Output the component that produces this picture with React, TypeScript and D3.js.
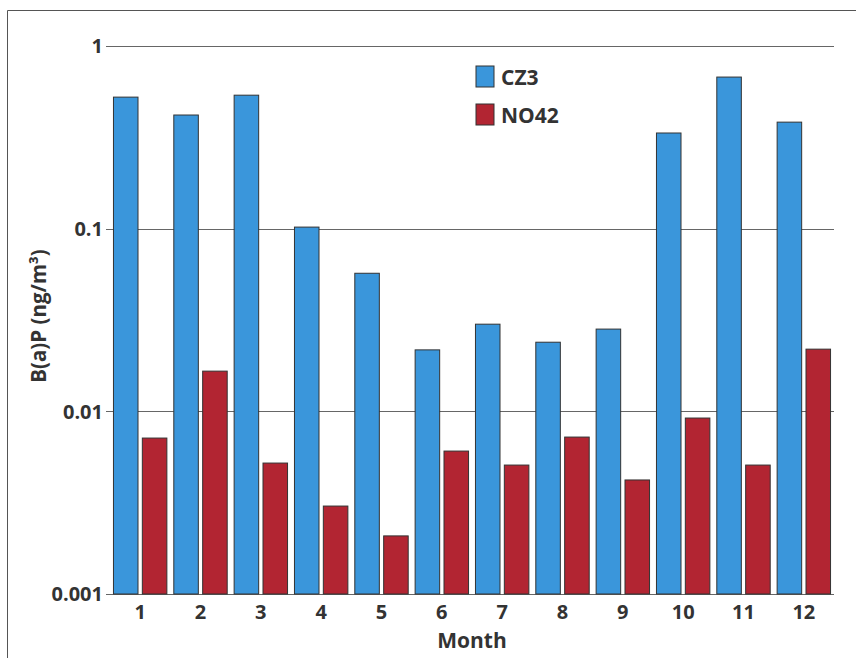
import * as d3 from 'd3';
import React from 'react';

const months = ['1', '2', '3', '4', '5', '6', '7', '8', '9', '10', '11', '12'];
const cz3 = [0.525, 0.419, 0.538, 0.102, 0.057, 0.0217, 0.030, 0.0239, 0.0282, 0.334, 0.676, 0.383];
const no42 = [0.00714, 0.0166, 0.00521, 0.00303, 0.00208, 0.00606, 0.00508, 0.00723, 0.00421, 0.00919, 0.00508, 0.0219];
const yTicks = [0.001, 0.01, 0.1, 1];
const yTickLabels = ['0.001', '0.01', '0.1', '1'];
const seriesNames = ['CZ3', 'NO42'];
const colors = ['#3A96DB', '#B22532'];

const App = () => {
    const width = 856;
    const height = 658;
    const margin = { top: 46, right: 22, bottom: 64, left: 110 };
    const font = '"Open Sans", "Noto Sans", sans-serif';

    const x = d3.scaleBand().domain(months).range([margin.left, width - margin.right]);
    const inner = d3.scaleBand().domain(seriesNames).range([0, x.bandwidth()]).paddingInner(0.15).paddingOuter(0.12);
    const y = d3.scaleLog().domain([0.001, 1]).range([height - margin.bottom, margin.top]);
    const base = y(0.001);

    const series = [cz3, no42];

    return (
        <svg width={width} height={height} style={{ position: 'absolute', left: 0, top: 0 }}>
            <rect x={0} y={0} width={width} height={height} fill="#fff" />
            {/* outer frame */}
            <line x1={7.5} y1={10.5} x2={width} y2={10.5} stroke="#555" strokeWidth={1} />
            <line x1={7.5} y1={10.5} x2={7.5} y2={height} stroke="#555" strokeWidth={1} />

            {/* grid lines */}
            {yTicks.map((t, i) => (
                <g key={i}>
                    <line x1={margin.left - 4} x2={width - margin.right} y1={Math.round(y(t)) + 0.5} y2={Math.round(y(t)) + 0.5}
                        stroke="#666" strokeWidth={1.2} />
                    <text x={margin.left - 7} y={y(t)} dy="0.36em" textAnchor="end" fontFamily={font}
                        fontWeight={700} fontSize={20} fill="#333">{yTickLabels[i]}</text>
                </g>
            ))}

            {/* bars */}
            {series.map((vals, s) => (
                <g key={s}>
                    {vals.map((v, i) => {
                        const bx = (x(months[i]) as number) + (inner(seriesNames[s]) as number);
                        return (
                            <rect key={i} x={bx} y={y(v)} width={inner.bandwidth()} height={base - y(v)}
                                fill={colors[s]} stroke="#333" strokeWidth={1} />
                        );
                    })}
                </g>
            ))}

            {/* x tick labels */}
            {months.map((m) => (
                <text key={m} x={(x(m) as number) + x.bandwidth() / 2} y={base + 25} textAnchor="middle"
                    fontFamily={font} fontWeight={700} fontSize={20} fill="#333">{m}</text>
            ))}

            <text x={(margin.left + width - margin.right) / 2} y={648} textAnchor="middle" fontFamily={font}
                fontWeight={700} fontSize={21} fill="#333">Month</text>

            <text transform={`translate(46, ${316}) rotate(-90)`} textAnchor="middle" fontFamily={font}
                fontWeight={700} fontSize={20.5} fill="#333">B(a)P (ng/m³)</text>

            {/* legend */}
            {seriesNames.map((n, i) => (
                <g key={n} transform={`translate(476, ${66 + i * 38})`}>
                    <rect x={0} y={0} width={18} height={21} fill={colors[i]} stroke="#333" strokeWidth={1} />
                    <text x={25} y={11} dy="0.36em" fontFamily={font} fontWeight={700} fontSize={21} fill="#333">{n}</text>
                </g>
            ))}
        </svg>
    );
};

export default App;
